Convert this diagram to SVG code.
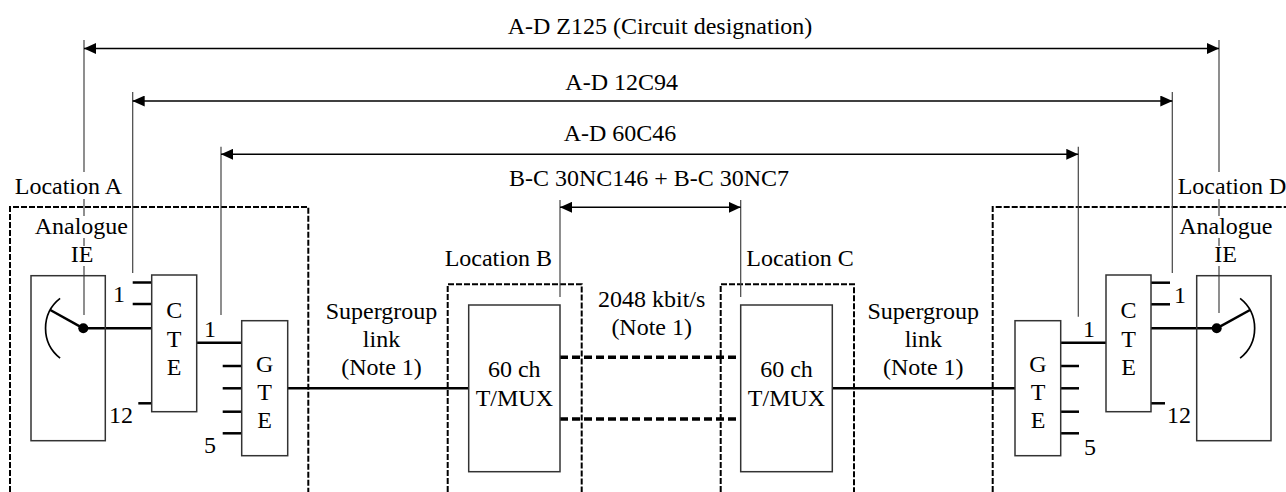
<svg xmlns="http://www.w3.org/2000/svg" width="1286" height="492" viewBox="0 0 1286 492">
<style>
text{font-family:"Liberation Serif","Times New Roman",serif;font-size:24px;fill:#000;text-anchor:middle}
.box{fill:none;stroke:#333;stroke-width:1.5}
.wire{stroke:#000;stroke-width:2.5;fill:none}
.arc{stroke:#000;stroke-width:1.7;fill:none}
.dim{stroke:#444;stroke-width:1.2;fill:none}
.arr{stroke:#000;stroke-width:1.4;fill:none;marker-start:url(#ah);marker-end:url(#ah)}
.loc{fill:none;stroke:#000;stroke-width:2;stroke-dasharray:6 2}
.link{stroke:#000;stroke-width:3.5;stroke-dasharray:8 4;fill:none}
</style>
<defs>
<marker id="ah" markerUnits="userSpaceOnUse" markerWidth="12" markerHeight="11" refX="12" refY="5.5" orient="auto-start-reverse"><path d="M0,0 L12,5.5 L0,11 z" fill="#000"/></marker>
</defs>
<g id="locations">
<path class="loc" d="M10 492 V207 H308.3 V492"/>
<path class="loc" d="M447.7 492 V284.3 H581.7 V492"/>
<path class="loc" d="M720.7 492 V284.3 H854 V492"/>
<path class="loc" d="M992.7 492 V207 H1290"/>
</g>
<g id="connectors">
<line class="dim" x1="84" y1="40" x2="84" y2="172"/>
<line class="dim" x1="84" y1="199" x2="84" y2="216"/>
<line class="dim" x1="84" y1="238" x2="84" y2="246"/>
<line class="dim" x1="84" y1="266" x2="84" y2="315"/>
<line class="dim" x1="1219" y1="40" x2="1219" y2="172"/>
<line class="dim" x1="1219" y1="199" x2="1219" y2="216"/>
<line class="dim" x1="1219" y1="238" x2="1219" y2="246"/>
<line class="dim" x1="1219" y1="266" x2="1219" y2="313"/>
<line class="dim" x1="132.7" y1="92" x2="132.7" y2="273"/>
<line class="dim" x1="1172.3" y1="92" x2="1172.3" y2="273"/>
<line class="dim" x1="221" y1="146.7" x2="221" y2="315"/>
<line class="dim" x1="1078.3" y1="146.7" x2="1078.3" y2="316.7"/>
<line class="dim" x1="560" y1="200" x2="560" y2="297"/>
<line class="dim" x1="740.7" y1="200" x2="740.7" y2="297"/>
<line class="arr" x1="84" y1="48.5" x2="1219" y2="48.5"/>
<line class="arr" x1="132.7" y1="101" x2="1172.3" y2="101"/>
<line class="arr" x1="221" y1="154.3" x2="1078.3" y2="154.3"/>
<line class="arr" x1="560" y1="207.3" x2="740.7" y2="207.3"/>
<line class="wire" x1="83.3" y1="328.3" x2="151.7" y2="328.3"/>
<line class="wire" x1="196.7" y1="342.7" x2="241.7" y2="342.7"/>
<line class="wire" x1="287.7" y1="388.3" x2="468.7" y2="388.3"/>
<line class="link" x1="560" y1="357.3" x2="740.7" y2="357.3"/>
<line class="link" x1="560" y1="419" x2="740.7" y2="419"/>
<line class="wire" x1="832.3" y1="388.3" x2="1015" y2="388.3"/>
<line class="wire" x1="1060.7" y1="342.7" x2="1106" y2="342.7"/>
<line class="wire" x1="1151" y1="328.3" x2="1216.7" y2="328.3"/>
</g>
<g id="labels">
<text x="660" y="34">A-D Z125 (Circuit designation)</text>
<text x="621.7" y="90">A-D 12C94</text>
<text x="620" y="140.7">A-D 60C46</text>
<text x="649" y="185.7">B-C 30NC146 + B-C 30NC7</text>
<text x="68.4" y="194">Location A</text>
<text x="1232" y="194">Location D</text>
<text x="498.3" y="266">Location B</text>
<text x="800" y="266">Location C</text>
<text x="381.5" y="319">Supergroup</text>
<text x="381.5" y="347">link</text>
<text x="381.5" y="375">(Note 1)</text>
<text x="923.3" y="319">Supergroup</text>
<text x="923.3" y="347">link</text>
<text x="923.3" y="375">(Note 1)</text>
<text x="651.7" y="307">2048 kbit/s</text>
<text x="651.7" y="335">(Note 1)</text>
</g>
<g id="ie-a">
<text x="81.3" y="234">Analogue</text>
<text x="82" y="262">IE</text>
<rect class="box" x="31" y="275.7" width="74.3" height="165"/>
<path class="arc" d="M60.1 298.4 A38 38 0 0 0 60.1 358.2"/>
<line class="wire" x1="50.3" y1="310" x2="83.3" y2="328.3"/>
<circle cx="83.3" cy="328.3" r="5" fill="#000"/>
</g>
<g id="cte-a">
<line class="wire" x1="132.7" y1="282.5" x2="151.7" y2="282.5"/>
<line class="wire" x1="132.7" y1="304" x2="151.7" y2="304"/>
<line class="wire" x1="138.3" y1="403.3" x2="151.7" y2="403.3"/>
<rect class="box" x="151.7" y="275" width="45" height="136.7"/>
<text x="174.2" y="318.3">C</text>
<text x="174.2" y="346.7">T</text>
<text x="174.2" y="375">E</text>
<text x="119" y="302">1</text>
<text x="121" y="423.3">12</text>
</g>
<g id="gte-a">
<line class="wire" x1="222.7" y1="366" x2="241.7" y2="366"/>
<line class="wire" x1="222.7" y1="388.3" x2="241.7" y2="388.3"/>
<line class="wire" x1="222.7" y1="411.7" x2="241.7" y2="411.7"/>
<line class="wire" x1="222.7" y1="433.3" x2="241.7" y2="433.3"/>
<rect class="box" x="241.7" y="320.7" width="46" height="135"/>
<text x="264.7" y="371.7">G</text>
<text x="264.7" y="399.7">T</text>
<text x="264.7" y="428">E</text>
<text x="210" y="336.7">1</text>
<text x="210" y="453.3">5</text>
</g>
<g id="tmux-b">
<rect class="box" x="468.7" y="305" width="91.3" height="166.7"/>
<text x="514.3" y="377">60 ch</text>
<text x="514.3" y="406">T/MUX</text>
</g>
<g id="tmux-c">
<rect class="box" x="740.7" y="305" width="91.6" height="166.7"/>
<text x="786.5" y="377">60 ch</text>
<text x="786.5" y="406">T/MUX</text>
</g>
<g id="gte-d">
<line class="wire" x1="1060.7" y1="366" x2="1079" y2="366"/>
<line class="wire" x1="1060.7" y1="388.3" x2="1079" y2="388.3"/>
<line class="wire" x1="1060.7" y1="411.7" x2="1079" y2="411.7"/>
<line class="wire" x1="1060.7" y1="433.3" x2="1079" y2="433.3"/>
<rect class="box" x="1015" y="320.7" width="45.7" height="135"/>
<text x="1038" y="371.7">G</text>
<text x="1038" y="399.7">T</text>
<text x="1038" y="428">E</text>
<text x="1089" y="336.7">1</text>
<text x="1090" y="455">5</text>
</g>
<g id="cte-d">
<line class="wire" x1="1151" y1="282.7" x2="1170" y2="282.7"/>
<line class="wire" x1="1151" y1="304.3" x2="1170" y2="304.3"/>
<line class="wire" x1="1151" y1="403.3" x2="1165" y2="403.3"/>
<rect class="box" x="1106" y="275" width="45" height="136.7"/>
<text x="1128.5" y="318.3">C</text>
<text x="1128.5" y="346.7">T</text>
<text x="1128.5" y="375">E</text>
<text x="1180" y="302.7">1</text>
<text x="1179" y="423.3">12</text>
</g>
<g id="ie-d">
<text x="1225.8" y="234">Analogue</text>
<text x="1225.7" y="262">IE</text>
<rect class="box" x="1196.7" y="275.7" width="74.3" height="165"/>
<path class="arc" d="M1240.1 298.4 A38 38 0 0 1 1240.1 358.2"/>
<line class="wire" x1="1250" y1="310" x2="1216.7" y2="328.3"/>
<circle cx="1216.7" cy="328.3" r="5" fill="#000"/>
</g>
</svg>
